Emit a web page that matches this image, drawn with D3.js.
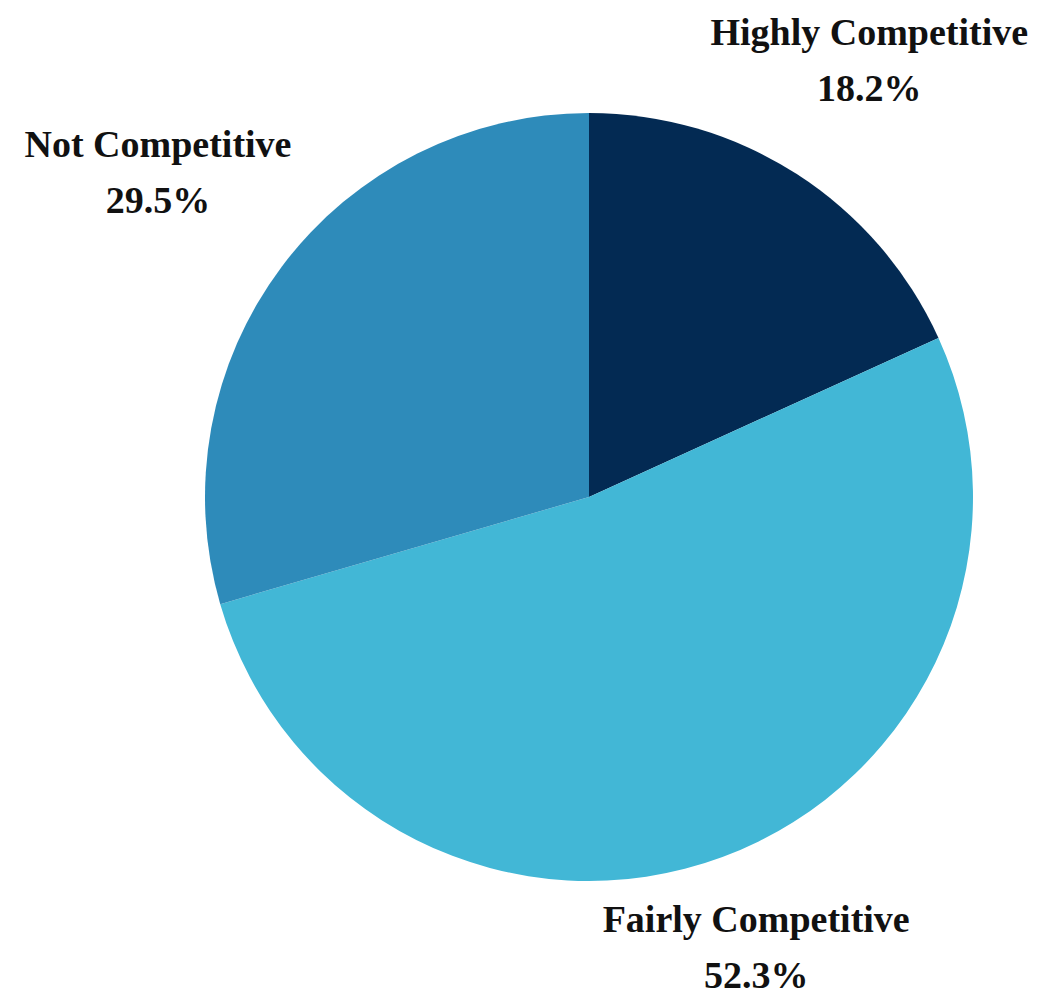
<!DOCTYPE html>
<html>
<head>
<meta charset="utf-8">
<script src="https://cdn.jsdelivr.net/npm/d3@7"></script>
<style>
  html, body { margin: 0; padding: 0; background: #ffffff; }
  svg { display: block; }
  .lbl { font-family: "Liberation Serif", "Times New Roman", serif; font-weight: bold; font-size: 38px; fill: #111111; }
</style>
</head>
<body>
<svg id="chart" width="1041" height="1002"></svg>
<script>
// Share of respondents by competitiveness rating
const categories = ["Highly Competitive", "Fairly Competitive", "Not Competitive"];
const shares = [18.2, 52.3, 29.5];
const colors = ["#032a53", "#42b7d6", "#2e8bba"];

// Layout constants
const W = 1041, H = 1002;
const cx = 589, cy = 497, R = 384;
const labelRadius = [518, 481, 539];
const lineGap = 56;

const data = categories.map((c, i) => ({ name: c, value: shares[i], color: colors[i], lr: labelRadius[i] }));

const svg = d3.select("#chart");
const g = svg.append("g").attr("transform", `translate(${cx},${cy})`);

const pie = d3.pie().value(d => d.value).sort(null);
const arc = d3.arc().innerRadius(0).outerRadius(R);
const arcs = pie(data);

g.selectAll("path.slice")
  .data(arcs)
  .join("path")
  .attr("class", "slice")
  .attr("d", arc)
  .attr("fill", d => d.data.color);

const fmt = d3.format(".1f");

const labels = g.selectAll("g.label")
  .data(arcs)
  .join("g")
  .attr("class", "label")
  .attr("transform", d => {
    const a = (d.startAngle + d.endAngle) / 2;
    const x = Math.sin(a) * d.data.lr;
    const y = -Math.cos(a) * d.data.lr;
    return `translate(${x},${y})`;
  });

labels.append("text")
  .attr("class", "lbl")
  .attr("text-anchor", "middle")
  .attr("y", -lineGap / 2 + 12)
  .text(d => d.data.name);

labels.append("text")
  .attr("class", "lbl")
  .attr("text-anchor", "middle")
  .attr("y", lineGap / 2 + 12)
  .text(d => fmt(d.data.value) + "%");
</script>
</body>
</html>
